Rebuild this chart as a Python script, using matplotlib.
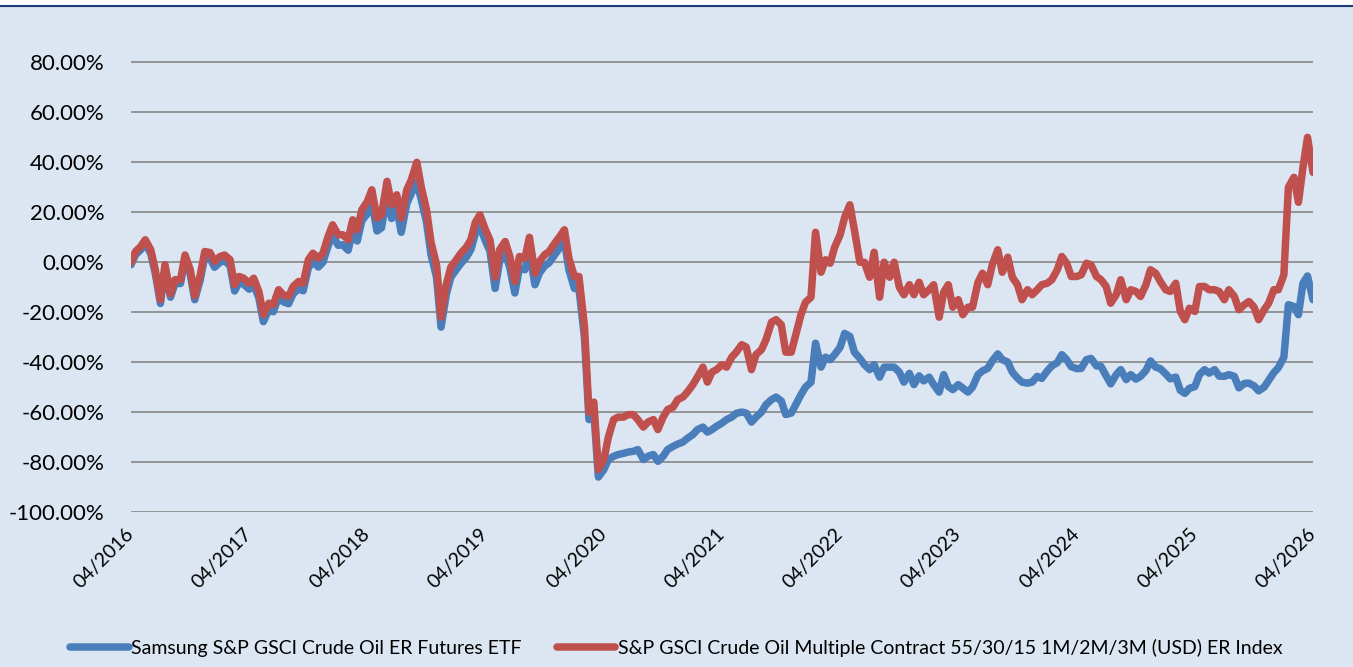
import matplotlib
matplotlib.use("Agg")
import matplotlib.pyplot as plt
import matplotlib.dates as mdates
from matplotlib.lines import Line2D
from matplotlib.patches import Rectangle
from matplotlib.ticker import FuncFormatter
import pandas as pd

plt.rcParams['font.family'] = ['Lato', 'DejaVu Sans']

# semi-monthly observations, 04/2016 .. 04/2026 (cumulative return, %)
dates = pd.date_range("2016-04-01", "2026-04-01", freq="SMS")

index_ret = [
    0, 4.3, 6.3, 9, 5, -3, -15, -1, -12.7, -7, -7, 2.9, -3, -13.4, -5, 4.3,
    3.9, 0.3, 2.3, 2.9, 1, -9, -5.7, -6.4, -8.4, -6.4, -11.7, -21, -16.4, -17, -11, -13,
    -13.7, -9.7, -7.7, -8.4, 1, 3.6, 1.6, 3.6, 10.3, 15, 11, 11, 9, 17, 13, 21,
    24.3, 29, 17.7, 19, 32.4, 23, 27, 17.7, 29, 33, 40, 30, 21, 8, -1, -22,
    -9, -2, 1, 3.6, 6, 9, 16, 19, 13, 9, -6, 5, 8.3, 2.5, -7.7, 2.3,
    1.6, 10, -4.4, 0.3, 3, 4.3, 7.6, 10, 13, 1.6, -5.7, -5.7, -25.7, -60, -56, -83,
    -79, -70, -63, -62, -62, -61, -61, -63, -66, -64, -63, -67, -62, -59, -58, -55,
    -54, -52, -49, -46, -42, -48, -44, -43, -41, -42, -38, -36, -33, -34, -43, -37,
    -35, -31, -24, -23, -25, -36, -36, -29, -21, -16, -14, 12, -4, 1, -0.4, 6,
    11, 18, 23, 13, 0, 0, -6, 4, -14, 0, -6, 0, -10, -13, -9, -13,
    -8, -13, -11, -9, -22, -12, -9, -18, -15, -21, -18, -18, -8, -4.4, -9, -1,
    5, -4, 2, -6, -9, -15, -11, -13, -11, -9, -8.4, -7, -3, 2.3, -0.4, -5.7,
    -5.7, -5, -0.4, -1, -5.7, -7, -9.7, -16.4, -13, -7, -15, -11, -11.7, -13.7, -9, -3,
    -4.4, -7.7, -11, -11.7, -8.4, -19.7, -23, -18.4, -19.7, -9.7, -9.7, -11, -11, -11.7, -15, -11,
    -13.7, -19, -17, -15.7, -18, -23, -19, -16.4, -11, -11, -5, 30, 34, 24, 38, 50,
    36,
]

etf_ret = [
    -1, 3, 5, 7.5, 3.5, -4.5, -16.5, -2.5, -14, -8.5, -8.5, 1.2, -4.8, -15, -7, 2.3,
    1.7, -2, 0, 0.6, -1.3, -11.5, -8, -8.8, -10.8, -9, -14.3, -23.8, -19, -19.8, -13.8, -15.8,
    -16.6, -12.6, -10.7, -11.4, -2.2, 0.2, -1.9, 0, 6.5, 11, 6.8, 7, 4.8, 12.7, 8.5, 16.5,
    19.5, 24, 12.5, 13.8, 27, 17.5, 21.5, 12, 23.5, 27.5, 32, 25, 16, 3, -6, -26,
    -13, -6, -3, -0.5, 2, 5, 11.5, 14.5, 8.5, 4.5, -10.5, 0.5, 3.8, -2, -12.3, -2.3,
    -3, 4.5, -9, -4.3, -1.5, -0.2, 3, 5.5, 8.5, -3, -10.5, -10.5, -30, -63, -60, -86,
    -83, -79, -77.7, -77, -76.5, -76, -75.7, -75, -79, -77.7, -77, -79.7, -77.7, -75, -73.7, -72.8,
    -72, -70.5, -69, -67, -66, -68, -67, -65.7, -64.4, -63, -62, -60.5, -60, -60.4, -64, -62,
    -60, -57, -55, -54, -55.5, -61, -60.4, -57, -53, -50, -48, -32.4, -42, -38, -39, -37,
    -34, -28.5, -29.7, -36, -38.5, -41, -43, -41, -46, -42, -42, -42, -44, -48, -44.5, -49,
    -45.5, -47.5, -46, -49, -52, -45, -49.7, -51, -49, -50.4, -52, -50, -45, -43.5, -42.5, -39.5,
    -36.7, -39, -40, -44, -46.4, -48, -48.4, -48, -45.7, -46.5, -43.5, -41.5, -40.2, -37, -39, -41.8,
    -42.6, -42.5, -39, -38.5, -41.5, -41.7, -45.5, -48.7, -45, -43, -47, -45, -46.8, -45.7, -43.3, -39.5,
    -42, -42.6, -44.7, -46.7, -46, -51.3, -52.5, -50.5, -49.8, -45, -43, -44.4, -43, -45.6, -45.7, -45,
    -45.7, -50.3, -48.5, -48.4, -49.5, -51.5, -50, -47.3, -44.2, -42.2, -38, -17, -17.7, -21, -8.4, -5.5,
    -15,
]

etf_name = "Samsung S&P GSCI Crude Oil ER Futures ETF"
index_name = "S&P GSCI Crude Oil Multiple Contract 55/30/15 1M/2M/3M (USD) ER Index"
y_ticks = [-100, -80, -60, -40, -20, 0, 20, 40, 60, 80]
x_ticks = pd.date_range("2016-04-01", "2026-04-01", freq="12MS")

bg = "#DCE6F2"
fig = plt.figure(figsize=(13.53, 6.67), dpi=100, facecolor=bg)
ax = fig.add_axes([131 / 1353, 155 / 667, 1182 / 1353, 499.5 / 667])
ax.set_facecolor(bg)

ax.plot(dates, etf_ret, color="#4A7EBB", lw=5.4, solid_joinstyle="round",
        solid_capstyle="round", label=etf_name, zorder=3)
ax.plot(dates, index_ret, color="#C0504D", lw=5.4, solid_joinstyle="round",
        solid_capstyle="round", label=index_name, zorder=4)

ax.set_ylim(-100, 100)
ax.set_yticks(y_ticks)
ax.yaxis.set_major_formatter(FuncFormatter(lambda v, p: f"{v:.2f}%"))
ax.set_xlim(dates[0], dates[-1])
ax.set_xticks(x_ticks)
ax.xaxis.set_major_formatter(mdates.DateFormatter("%m/%Y"))

ax.grid(axis="y", color="#8E8E8E", lw=1.3, zorder=1)
ax.grid(axis="x", visible=False)
for s in ax.spines.values():
    s.set_visible(False)
ax.tick_params(axis="both", length=0, colors="black")
ax.tick_params(axis="y", pad=19, labelsize=16)
ax.tick_params(axis="x", pad=14, labelsize=14)
for lbl in ax.get_xticklabels():
    lbl.set_rotation(45)
    lbl.set_ha("right")
    lbl.set_va("center")
    lbl.set_rotation_mode("anchor")

fig.legend(loc="center", bbox_to_anchor=(0.5, 19 / 667), ncol=2, frameon=False,
           fontsize=14, handlelength=3.0, handletextpad=0.15, columnspacing=1.8)

# white strip and dark frame line at the top
fig.add_artist(Rectangle((0, 662 / 667), 1, 5 / 667, transform=fig.transFigure,
                         color="white", zorder=0))
fig.add_artist(Line2D([0, 1], [661.5 / 667, 661.5 / 667], transform=fig.transFigure,
                      color="#1F3D7A", lw=1.5))

fig.savefig("out.png", dpi=100, facecolor=bg)
